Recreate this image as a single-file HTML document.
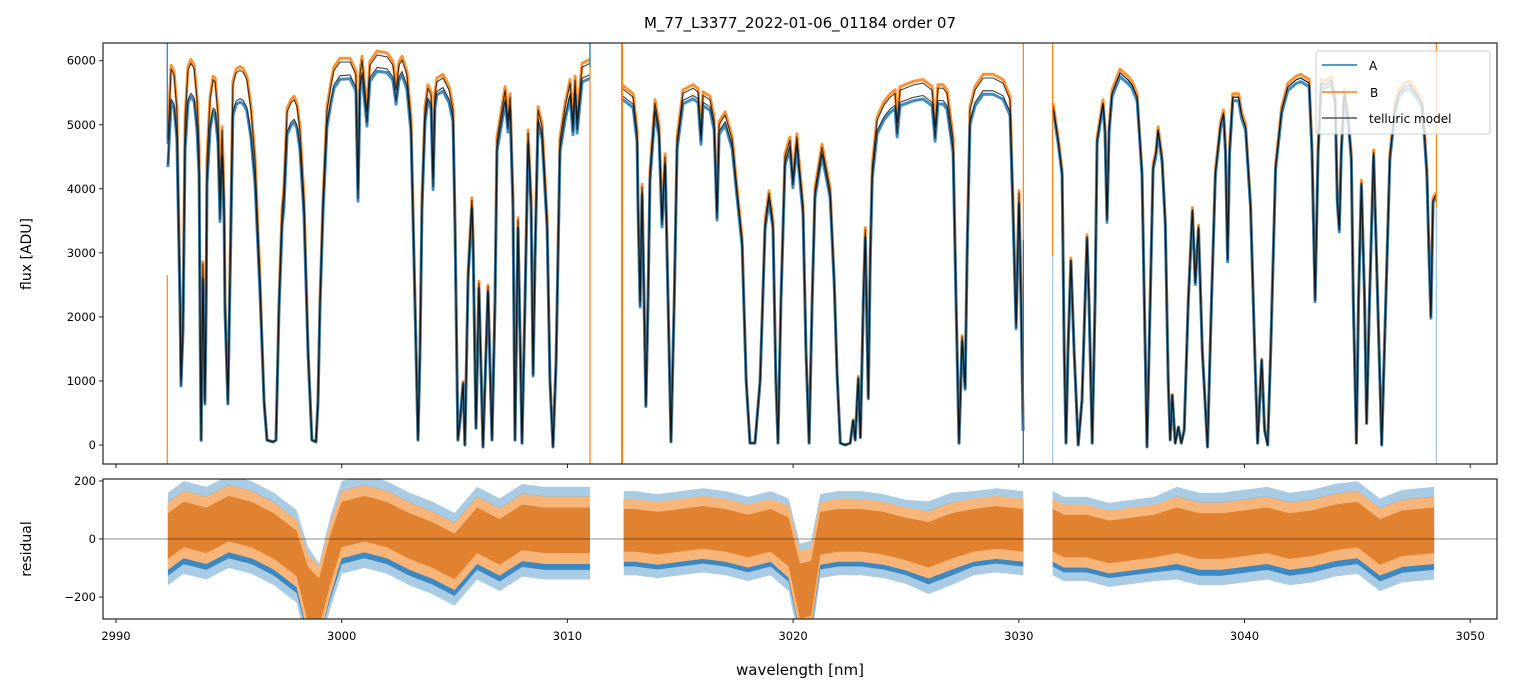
<!DOCTYPE html>
<html><head><meta charset="utf-8"><style>
body{margin:0;background:#fff;}
svg{display:block;font-family:"DejaVu Sans","Liberation Sans",sans-serif;}
</style></head><body>
<svg id="chart" width="1513" height="696" viewBox="0 0 1513 696" xmlns="http://www.w3.org/2000/svg">
<defs>
<clipPath id="clipTop"><rect x="103" y="43" width="1394" height="421"/></clipPath>
<clipPath id="clipBot"><rect x="103" y="479" width="1394" height="140"/></clipPath>
</defs>
<rect width="1513" height="696" fill="#fff"/>
<text x="800" y="28" font-size="15" text-anchor="middle">M_77_L3377_2022-01-06_01184  order 07</text>
<g id="topPlot" clip-path="url(#clipTop)"></g>
<g id="botPlot" clip-path="url(#clipBot)"></g>
<g id="axes"></g>
<text transform="translate(31,254) rotate(-90)" font-size="14" text-anchor="middle">flux [ADU]</text>
<text transform="translate(31,549) rotate(-90)" font-size="14" text-anchor="middle">residual</text>
<text x="800" y="675" font-size="15" text-anchor="middle">wavelength [nm]</text>
<g>
<rect x="1316" y="51" width="174" height="83" rx="3" fill="#fff" fill-opacity="0.8" stroke="#ccc" stroke-width="1"/>
<g><line x1="1322" y1="65" x2="1357" y2="65" stroke="#1f77b4" stroke-width="1.5"/><text x="1369" y="70" font-size="12">A</text></g>
<g><line x1="1322" y1="92" x2="1357" y2="92" stroke="#ff7f0e" stroke-width="1.5"/><text x="1370" y="97" font-size="12">B</text></g>
<g><line x1="1322" y1="118" x2="1357" y2="118" stroke="#555" stroke-width="1.5"/><text x="1369" y="123" font-size="12">telluric model</text></g>
</g>
</svg>
<script>
const modelWl = [2992.30,2992.44,2992.57,2992.70,2992.84,2992.88,2992.97,2993.06,2993.19,2993.32,2993.46,2993.59,2993.68,2993.72,2993.77,2993.85,2993.94,2993.99,2994.03,2994.17,2994.30,2994.39,2994.52,2994.61,2994.70,2994.79,2994.83,2994.96,2995.10,2995.18,2995.32,2995.49,2995.63,2995.80,2995.98,2996.16,2996.38,2996.56,2996.69,2996.96,2997.09,2997.22,2997.36,2997.44,2997.58,2997.75,2997.89,2998.02,2998.15,2998.33,2998.51,2998.68,2998.86,2998.95,2999.04,2999.17,2999.35,2999.53,2999.66,2999.93,3000.37,3000.63,3000.72,3000.81,3000.90,3001.12,3001.25,3001.57,3002.01,3002.27,3002.41,3002.54,3002.67,3002.89,3003.07,3003.20,3003.38,3003.47,3003.56,3003.69,3003.82,3003.96,3004.05,3004.13,3004.22,3004.49,3004.76,3004.93,3005.02,3005.15,3005.24,3005.38,3005.46,3005.60,3005.77,3005.82,3005.95,3006.08,3006.26,3006.48,3006.66,3006.79,3006.88,3007.24,3007.37,3007.46,3007.59,3007.68,3007.81,3007.99,3008.12,3008.26,3008.39,3008.48,3008.57,3008.70,3008.88,3009.10,3009.23,3009.36,3009.50,3009.67,3009.90,3010.12,3010.25,3010.34,3010.43,3010.65,3011.00,
null,
3012.42,3012.91,3013.09,3013.13,3013.22,3013.31,3013.40,3013.48,3013.57,3013.66,3013.88,3014.06,3014.19,3014.33,3014.46,3014.59,3014.73,3014.86,3015.12,3015.57,3015.79,3015.92,3016.01,3016.32,3016.50,3016.63,3016.72,3016.99,3017.30,3017.47,3017.74,3017.92,3018.09,3018.31,3018.54,3018.76,3018.93,3019.11,3019.24,3019.33,3019.46,3019.64,3019.86,3019.99,3020.17,3020.26,3020.44,3020.57,3020.71,3020.84,3020.97,3021.28,3021.64,3021.82,3021.95,3022.09,3022.31,3022.53,3022.66,3022.75,3022.89,3022.98,3023.11,3023.20,3023.33,3023.42,3023.51,3023.72,3024.03,3024.30,3024.52,3024.61,3024.74,3025.32,3025.76,3026.16,3026.29,3026.42,3026.64,3026.82,3027.09,3027.22,3027.35,3027.49,3027.62,3027.71,3027.84,3028.06,3028.42,3028.86,3029.30,3029.61,3029.74,3029.88,3030.01,3030.10,3030.19,
null,
3031.52,3031.74,3031.92,3032.01,3032.09,3032.18,3032.31,3032.45,3032.63,3032.80,3033.02,3033.11,3033.25,3033.38,3033.47,3033.73,3033.82,3033.91,3034.00,3034.13,3034.49,3034.84,3035.02,3035.24,3035.46,3035.60,3035.68,3035.82,3035.95,3036.08,3036.17,3036.35,3036.49,3036.62,3036.71,3036.80,3036.93,3037.07,3037.20,3037.33,3037.51,3037.69,3037.82,3037.96,3038.13,3038.36,3038.54,3038.71,3038.94,3039.07,3039.16,3039.25,3039.34,3039.48,3039.74,3039.87,3040.05,3040.27,3040.45,3040.58,3040.76,3040.89,3041.03,3041.16,3041.38,3041.65,3041.92,3042.28,3042.50,3042.86,3042.99,3043.13,3043.26,3043.40,3043.57,3043.84,3044.02,3044.11,3044.20,3044.29,3044.42,3044.60,3044.73,3044.82,3044.96,3045.05,3045.18,3045.32,3045.41,3045.54,3045.72,3045.90,3046.08,3046.26,3046.44,3046.66,3046.84,3047.10,3047.33,3047.59,3047.86,3047.99,3048.08,3048.17,3048.26,3048.35,3048.48];
const modelFluxB = [4760,5870,5780,5230,2260,1010,1950,5070,5850,5960,5880,5390,4600,2260,80,2830,700,2260,4450,5390,5700,5670,5150,3820,4920,3820,2260,700,3820,5620,5810,5850,5820,5700,5230,4450,2580,700,80,50,80,2260,3670,3980,5200,5340,5390,5280,4920,3820,1480,80,50,700,2260,3820,5230,5620,5850,5980,5980,5780,3980,5780,6010,5200,5930,6090,6060,5930,5540,5930,6010,5780,5070,3040,80,1480,3820,5230,5570,5460,4140,5460,5670,5730,5540,5230,3510,80,390,980,0,2680,3820,3200,270,2530,-30,2470,80,2260,4760,5540,5070,5430,3820,80,3510,30,2260,4870,3820,1120,3040,5230,4960,3510,1010,-30,1330,4760,5280,5650,5040,5700,5070,5900,5960,
null,
5570,5430,4870,3820,2220,4030,2260,620,2260,4250,5340,4960,3510,4500,2260,50,2260,4760,5490,5570,5510,4840,5460,5390,5070,3620,5000,5150,4760,4140,3200,1010,30,30,1010,3470,3930,3470,1010,30,2260,4500,4760,4140,4810,4400,3720,1480,30,2260,3980,4650,3980,2580,1120,30,0,30,390,80,1060,120,2260,3360,750,3040,4340,5070,5310,5430,5490,5030,5540,5620,5650,5540,4960,5570,5570,5490,4760,2260,30,1690,910,3040,5230,5540,5730,5730,5650,5390,3820,1900,3930,2260,230,
null,
5280,4760,4250,1480,30,1480,2890,1480,0,700,3250,2260,30,2260,4760,5340,4920,3510,4920,5490,5810,5700,5620,5430,4250,1480,-30,2260,4340,4560,4920,4450,3470,1010,80,780,30,280,30,230,2260,3670,2530,3400,1480,-30,2260,4250,5000,5180,4600,2890,4600,5430,5430,5150,4960,3720,1480,30,1330,230,0,1480,4340,5230,5590,5700,5730,5650,4600,2260,4600,5650,5620,5700,5390,3820,3360,4600,5490,5070,4500,2260,30,2260,4090,2260,340,2260,4560,2260,0,2260,4500,5230,5490,5590,5620,5490,5340,4760,4250,3040,2000,3820,3900];
// A/B continuum ratio (A relative to B) at knot wavelengths
const ratioWl = [2992,2996,3000,3005,3011,3012.4,3022,3024,3030.2,3031.5,3049];
const ratioA  = [0.92,0.925,0.965,0.975,0.97,0.98,0.98,0.966,0.965,1.0,1.0];
// edge spikes: wavelength, flux from, flux to, series
const spikeWl   = [2992.27,2992.27,3011.0,3011.0,3012.42,3030.2,3030.2,3031.5,3031.5,3048.5,3048.5];
const spikeFrom = [4700,-300,-300,5900,-300,-300,-300,2950,-300,3700,-300];
const spikeTo   = [6300,2650,6300,6300,6300,6300,3200,6300,2950,6300,3700];
const spikeSer  = ["A","B","B","A","B","B","A","B","A2","B","A2"];
// residuals
const resWl    = [2992.3,2993,2994,2995,2996,2997,2998,2998.5,2999,2999.5,3000,3001,3002,3003,3004,3005,3006,3007,3008,3009,3010,3011,null,3012.5,3013,3014,3015,3016,3017,3018,3019,3019.8,3020.3,3020.8,3021.2,3022,3023,3024,3025,3026,3027,3028,3029,3030.2,null,3031.5,3032,3033,3034,3035,3036,3037,3038,3039,3040,3041,3042,3043,3044,3045,3046,3047,3048.4];
const resMeanA = [0,40,20,60,40,0,-60,-200,-230,-80,40,60,40,0,-30,-70,20,-20,30,20,20,20,null,20,20,10,20,30,20,0,20,-20,-190,-180,10,20,20,10,-10,-30,0,20,30,20,null,20,0,0,-20,-10,0,20,0,0,10,20,0,10,30,40,-20,10,20];
const resMeanB = [10,50,30,70,50,10,-50,-190,-220,-70,50,70,50,10,-20,-60,30,-10,40,30,30,30,null,30,30,20,30,40,30,10,30,-10,-180,-170,20,30,30,20,0,-20,10,30,40,30,null,30,10,10,-10,0,10,30,10,10,20,30,10,20,40,50,-10,20,30];
const resSpreadA = [110,110,110,110,110,110,110,120,100,110,110,110,110,110,110,110,110,110,110,110,110,110,null,100,100,100,100,100,100,100,100,110,120,120,100,100,100,100,100,110,110,100,100,100,null,100,100,100,100,100,100,110,110,110,110,110,110,110,110,110,110,110,110];
const resSpreadB = [75,75,75,75,75,75,75,90,80,80,75,75,75,75,75,75,75,75,75,75,75,75,null,70,70,70,70,70,70,70,70,80,90,90,70,70,70,70,70,75,75,70,70,70,null,70,70,70,70,70,70,75,75,75,75,75,75,75,75,75,75,75,75];
const fluxTicks = [0,1000,2000,3000,4000,5000,6000];
const resTicks = [-200,0,200];
const wlTicks = [2990,3000,3010,3020,3030,3040,3050];

const NS = "http://www.w3.org/2000/svg";
const xS = w => 116 + (w - 2990) * 22.57;
const yT = f => 445 - f * 0.06405;
const yB = r => 539 - r * 0.29;
function ratioAt(w){
  for(let i=0;i<ratioWl.length-1;i++){ if(w>=ratioWl[i]&&w<=ratioWl[i+1]){const t=(w-ratioWl[i])/(ratioWl[i+1]-ratioWl[i]);return ratioA[i]+t*(ratioA[i+1]-ratioA[i]);} }
  return 1;
}
function mk(tag, attrs, parent){ const e=document.createElementNS(NS,tag); for(const k in attrs) e.setAttribute(k,attrs[k]); parent.appendChild(e); return e; }
function pathFrom(wl, vals, xs, ys, scaleFn){
  let d="", pen=false;
  for(let i=0;i<wl.length;i++){
    if(wl[i]===null || vals[i]===null || vals[i]===undefined){pen=false;continue;}
    const v = scaleFn ? vals[i]*scaleFn(wl[i]) : vals[i];
    d += (pen?"L":"M") + xs(wl[i]).toFixed(1) + " " + ys(v).toFixed(1);
    pen=true;
  }
  return d;
}
const topG = document.getElementById("topPlot");
const botG = document.getElementById("botPlot");
const axesG = document.getElementById("axes");

let p = mk("path",{d:pathFrom(modelWl,modelFluxB,xS,yT,w=>1.01),fill:"none",stroke:"#ff7f0e","stroke-width":"3","stroke-opacity":"0.85","stroke-linejoin":"round"},topG);


p = mk("path",{d:pathFrom(modelWl,modelFluxB,xS,yT,w=>ratioAt(w)*0.99),fill:"none",stroke:"#1f77b4","stroke-width":"3","stroke-opacity":"0.85","stroke-linejoin":"round"},topG);


p = mk("path",{d:pathFrom(modelWl,modelFluxB,xS,yT,null),fill:"none",stroke:"#111","stroke-width":"1.1","stroke-opacity":"0.8","stroke-linejoin":"round"},topG);


p = mk("path",{d:pathFrom(modelWl,modelFluxB,xS,yT,ratioAt),fill:"none",stroke:"#111","stroke-width":"1.1","stroke-opacity":"0.8","stroke-linejoin":"round"},topG);


for(let i=0;i<spikeWl.length;i++){
  const c = spikeSer[i]==="B" ? "#ff7f0e" : (spikeSer[i]==="A2" ? "#9ec5e3" : "#1f77b4");
  const l = mk("line",{x1:xS(spikeWl[i]),x2:xS(spikeWl[i]),y1:yT(spikeFrom[i]),y2:yT(spikeTo[i]),stroke:c,"stroke-width":spikeWl[i]===3012.42?"2":"1.2"},topG);
  
  
}
function band(mean, spread, k){
  let d="", seg=[];
  const segs=[];
  for(let i=0;i<resWl.length;i++){ if(resWl[i]===null){segs.push(seg);seg=[];} else seg.push(i); }
  segs.push(seg);
  segs.forEach(s=>{
    if(!s.length) return;
    s.forEach((i,j)=>{ d+=(j?"L":"M")+xS(resWl[i]).toFixed(1)+" "+yB(mean[i]+spread[i]*k).toFixed(1); });
    for(let j=s.length-1;j>=0;j--){const i=s[j]; d+="L"+xS(resWl[i]).toFixed(1)+" "+yB(mean[i]-spread[i]*k).toFixed(1);}
    d+="Z";
  });
  return d;
}
p = mk("path",{d:band(resMeanA,resSpreadA,1.45),fill:"#a9cbe4"},botG);


p = mk("path",{d:band(resMeanA,resSpreadA,1.15),fill:"#3d88c0"},botG);


p = mk("path",{d:band(resMeanB,resSpreadB,1.55),fill:"#f7b57a"},botG);


p = mk("path",{d:band(resMeanB,resSpreadB,1.05),fill:"#e0822f"},botG);


p = mk("line",{x1:103,x2:1497,y1:yB(0),y2:yB(0),stroke:"#000","stroke-width":"0.7","stroke-opacity":"0.6"},botG);



let r = mk("rect",{x:103,y:43,width:1394,height:421,fill:"none",stroke:"#222","stroke-width":"1.2"},axesG);


r = mk("rect",{x:103,y:479,width:1394,height:140,fill:"none",stroke:"#222","stroke-width":"1.2"},axesG);


fluxTicks.forEach(v=>{
  const y=yT(v);
  let t=mk("line",{x1:99,x2:103,y1:y,y2:y,stroke:"#222","stroke-width":"1"},axesG);
  
  
  t=mk("text",{x:96,y:y+4,"font-size":"11.5","text-anchor":"end"},axesG); t.textContent=v;
  
  
});
resTicks.forEach(v=>{
  const y=yB(v);
  let t=mk("line",{x1:99,x2:103,y1:y,y2:y,stroke:"#222","stroke-width":"1"},axesG);
  
  
  t=mk("text",{x:96,y:y+4,"font-size":"11.5","text-anchor":"end"},axesG); t.textContent=(v<0?"\u2212"+(-v):v);
  
  
});
wlTicks.forEach(v=>{
  const x=xS(v);
  let t=mk("line",{x1:x,x2:x,y1:464,y2:468,stroke:"#222","stroke-width":"1"},axesG);
  
  
  t=mk("line",{x1:x,x2:x,y1:619,y2:623,stroke:"#222","stroke-width":"1"},axesG);
  
  
  t=mk("text",{x:x,y:640,"font-size":"11.5","text-anchor":"middle"},axesG); t.textContent=v;
  
  
});
</script>
</body></html>
